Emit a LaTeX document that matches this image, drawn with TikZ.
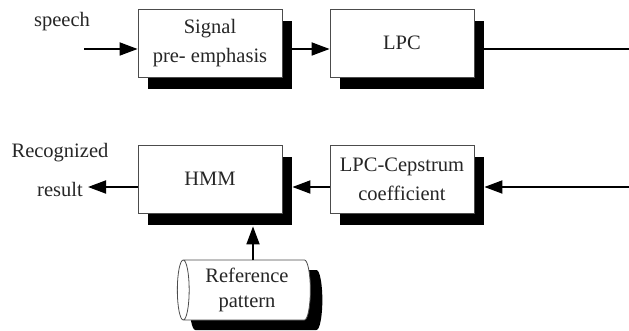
\documentclass[tikz,border=0pt]{standalone}
\usepackage{fontspec}
\setmainfont{Liberation Serif}
\usetikzlibrary{shapes.geometric,shadows,arrows.meta}
\begin{document}
\begin{tikzpicture}[x=1pt,y=-1pt,
  every node/.style={font=\fontsize{20.5}{29}\selectfont, text=black!85},
  box/.style={draw=black!70, line width=0.8pt, fill=white, minimum width=144pt,
    minimum height=68pt, align=center, inner sep=0pt,
    drop shadow={shadow xshift=10pt, shadow yshift=-12pt, fill=black, opacity=1}},
  cyl/.style={shape=cylinder, shape border rotate=180, aspect=0.27, draw=black!70,
    line width=0.8pt, fill=white, minimum width=60pt, minimum height=133pt,
    align=center, inner sep=0pt, font=\fontsize{20.5}{25}\selectfont,
    drop shadow={shadow xshift=12pt, shadow yshift=-10pt, fill=black, opacity=1}},
  arr/.style={line width=1.8pt, -{Triangle[length=18pt,width=13pt]}},
  lin/.style={line width=1.5pt}]
\useasboundingbox (0,0) rectangle (629,331);
\node[box] (pre) at (210,43) {Signal\\pre- emphasis};
\node[box] (lpc) at (402,43) {LPC};
\node[box] (hmm) at (210,179) {HMM};
\node[box] (cep) at (402,179) {LPC-Cepstrum\\coefficient};
\node[cyl] (ref) at (247,290) {Reference\\pattern};
\node (sp) at (62,22) {speech};
\node (rec) at (60,153) {Recognized};
\node (res) at (60,189) {result};
\coordinate (in) at (84,49);
\coordinate (out) at (88,187);
\coordinate (r1) at (631,49);
\coordinate (r2) at (631,187);
\coordinate (hs) at ([yshift=-13pt]hmm.south);
\coordinate (rt) at (253,260);
\draw[arr] (in) -- ([shift={(0,6)}]pre.west);
\draw[arr] ([shift={(10,6)}]pre.east) -- ([shift={(0,6)}]lpc.west);
\draw[lin] ([shift={(10,6)}]lpc.east) -- (r1) -- (r2);
\draw[arr] (r2) -- ([shift={(10,8)}]cep.east);
\draw[arr] ([shift={(0,8)}]cep.west) -- ([shift={(10,8)}]hmm.east);
\draw[arr] ([shift={(0,8)}]hmm.west) -- (out);
\draw[arr] (rt) -- (rt |- hs);
\end{tikzpicture}
\end{document}
